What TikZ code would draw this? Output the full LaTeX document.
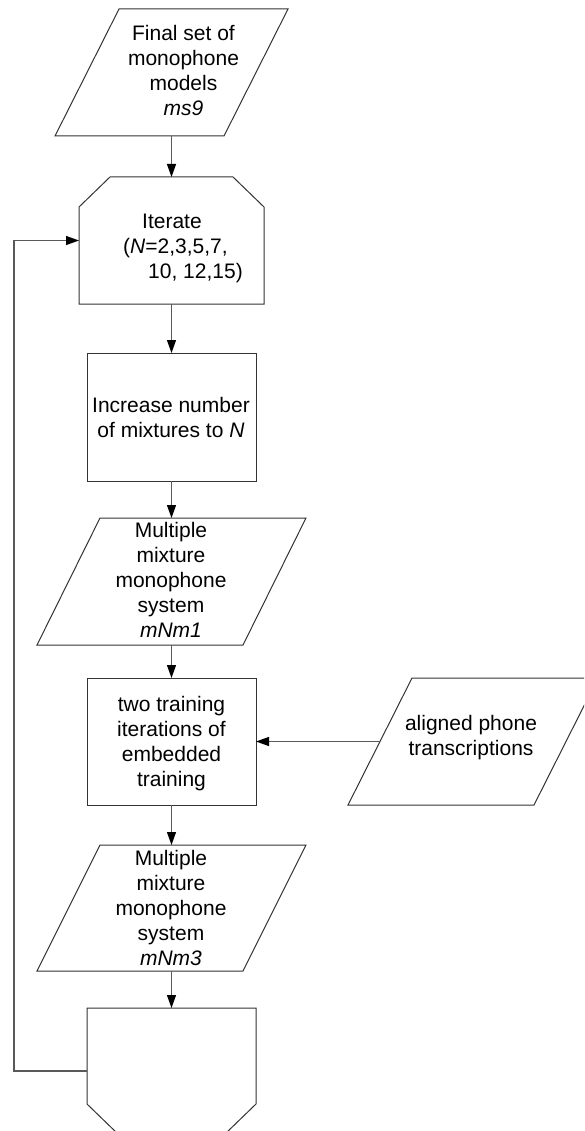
\documentclass[tikz,border=0pt]{standalone}
\usepackage{fontspec}
\setmainfont{Liberation Sans}
\usetikzlibrary{arrows.meta,calc}

\tikzset{
  frame/.style={shape=rectangle, minimum width=#1, inner sep=0pt, outer sep=0pt},
  outline/.style={draw=black!80, line width=1pt, line join=miter},
  arr/.style={draw=black!65, line width=1.1pt,
    -{Triangle[length=13pt,width=9pt,fill=black,color=black]}},
  txt/.style={inner sep=0pt, font=\fontsize{21}{25}\selectfont},
}
\newcommand{\stack}[1]{\begin{tabular}{@{}c@{}}#1\end{tabular}}
\newcommand{\lstack}[1]{\begin{tabular}{@{}l@{}}#1\end{tabular}}

\begin{document}
\begin{tikzpicture}[x=1pt,y=-1pt]
\useasboundingbox (0,0) rectangle (584,1131);
\clip (0,0) rectangle (584,1131);

% shape frames
\node[frame=233pt, minimum height=127pt] (ms9)   at (171.5,72.5)  {};
\node[frame=185pt, minimum height=127pt] (iter)  at (171.5,240.5) {};
\node[frame=169pt, minimum height=128pt] (inc)   at (171.5,417)   {};
\node[frame=269pt, minimum height=127pt] (mnm1)  at (171.5,581.5) {};
\node[frame=169pt, minimum height=127pt] (train) at (171.5,741.5) {};
\node[frame=250pt, minimum height=127pt] (align) at (473,741.5)   {};
\node[frame=269pt, minimum height=126pt] (mnm3)  at (171.5,908)   {};
\node[frame=169pt, minimum height=126pt] (lend)  at (171.5,1071)  {};

% outlines
\draw[outline] ([xshift=64pt]ms9.north west) -- (ms9.north east)
  -- ([xshift=-64pt]ms9.south east) -- (ms9.south west) -- cycle;
\draw[outline] ([yshift=-30pt]iter.north west) -- ([xshift=31pt]iter.north west)
  -- ([xshift=-31pt]iter.north east) -- ([yshift=-30pt]iter.north east)
  -- (iter.south east) -- (iter.south west) -- cycle;
\draw[outline] (inc.north west) rectangle (inc.south east);
\draw[outline] ([xshift=63pt]mnm1.north west) -- (mnm1.north east)
  -- ([xshift=-63pt]mnm1.south east) -- (mnm1.south west) -- cycle;
\draw[outline] (train.north west) rectangle (train.south east);
\draw[outline] ([xshift=64pt]align.north west) -- (align.north east)
  -- ([xshift=-64pt]align.south east) -- (align.south west) -- cycle;
\draw[outline] ([xshift=63pt]mnm3.north west) -- (mnm3.north east)
  -- ([xshift=-63pt]mnm3.south east) -- (mnm3.south west) -- cycle;
\draw[outline] (lend.north west) -- (lend.north east)
  -- ([yshift=30pt]lend.south east) -- ([xshift=-31pt]lend.south east)
  -- ([xshift=31pt]lend.south west) -- ([yshift=30pt]lend.south west) -- cycle;

% texts
\node[txt] (ms9-t) at (183.5,73.5)
  {\stack{Final set of\\monophone\\models\\\textit{ms9}}};
\node[txt, anchor=west] (iter-t) at (123,249)
  {\lstack{\hspace*{19pt}Iterate\\(\textit{N}=2,3,5,7,\\\hspace*{25pt}10, 12,15)}};
\node[txt] (inc-t) at (171,419.5)
  {\stack{Increase number\\of mixtures to \textit{N}}};
\node[txt] (mnm1-t) at (171,582.5)
  {\stack{Multiple\\mixture\\monophone\\system\\\textit{mNm1}}};
\node[txt] (train-t) at (171.5,744)
  {\stack{two training\\iterations of\\embedded\\training}};
\node[txt] (align-t) at (471,737.5)
  {\stack{aligned phone\\transcriptions}};
\node[txt] (mnm3-t) at (171,910.5)
  {\stack{Multiple\\mixture\\monophone\\system\\\textit{mNm3}}};

% connectors
\draw[arr] (ms9.south) -- (iter.north);
\draw[arr] (iter.south) -- (inc.north);
\draw[arr] (inc.south) -- (mnm1.north);
\draw[arr] (mnm1.south) -- (train.north);
\draw[arr] ([xshift=32pt]align.west) -- (train.east);
\draw[arr] (train.south) -- (mnm3.north);
\draw[arr] (mnm3.south) -- (lend.north);
\coordinate (rail) at (14,0);
\draw[arr] (lend.west) -- (lend.west -| rail) |- (iter.west);
\end{tikzpicture}
\end{document}
